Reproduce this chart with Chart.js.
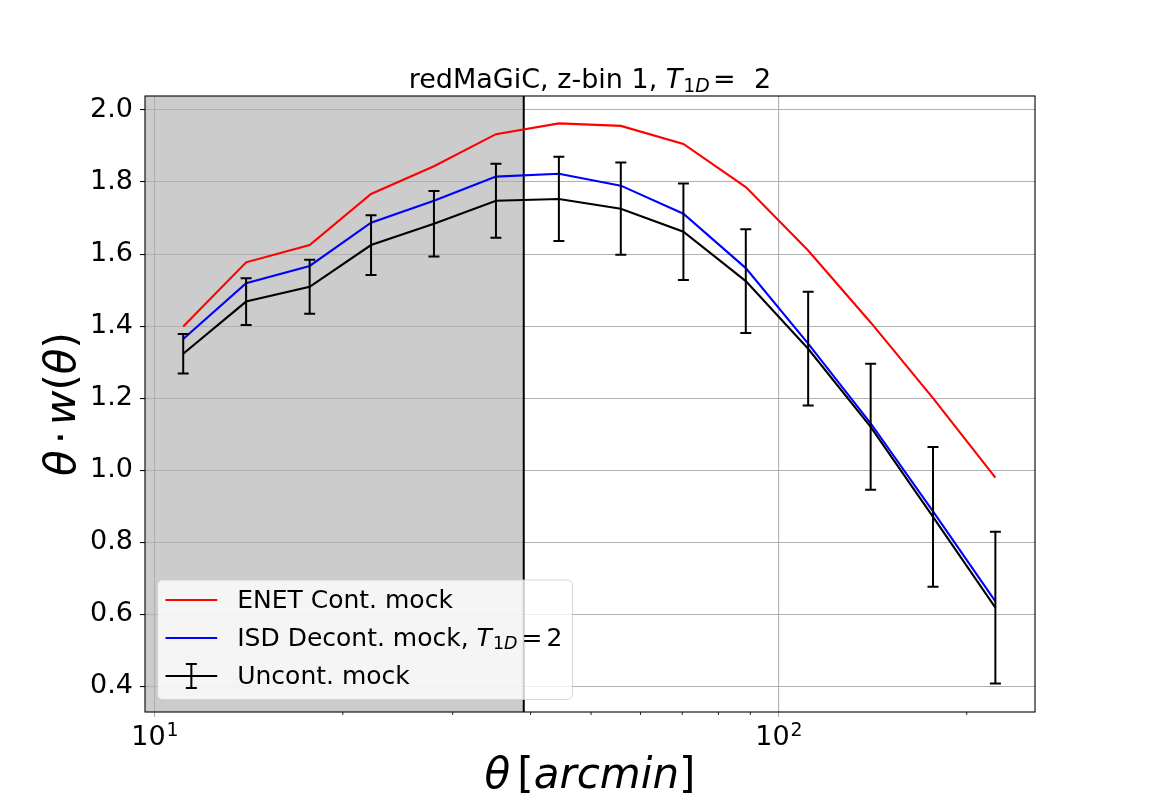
<!DOCTYPE html>
<html lang="en">

<head>
  <meta charset="UTF-8">
  <title>redMaGiC z-bin 1</title>
  <script src="https://cdn.jsdelivr.net/npm/chart.js@4.4.0/dist/chart.umd.min.js"></script>
  <style>
    body { margin: 0; background: #fff; }
    canvas { display: block; }
  </style>
</head>

<body>
  <canvas id="wChart" width="1150" height="800" style="width:1150px;height:800px"></canvas>
  <script>
    // theta bin centres [arcmin]
    const thetaArcmin = [11.1, 14.0, 17.7, 22.2, 28.0, 35.2, 44.4, 55.8, 70.3, 88.5, 111.4, 140.3, 176.6, 222.3];
    const enetCont = [1.399, 1.577, 1.625, 1.767, 1.844, 1.933, 1.963, 1.956, 1.906, 1.786, 1.610, 1.410, 1.200, 0.979];
    const isdDecont = [1.364, 1.519, 1.567, 1.687, 1.748, 1.815, 1.823, 1.790, 1.712, 1.561, 1.351, 1.130, 0.885, 0.635];
    const uncontMock = [1.323, 1.468, 1.509, 1.625, 1.684, 1.748, 1.753, 1.726, 1.662, 1.525, 1.337, 1.120, 0.870, 0.618];
    const uncontErr = [0.055, 0.065, 0.075, 0.083, 0.091, 0.103, 0.117, 0.128, 0.134, 0.144, 0.158, 0.175, 0.194, 0.211];

    const yTickValues = [0.4, 0.6, 0.8, 1.0, 1.2, 1.4, 1.6, 1.8, 2.0];
    const xMajorTicks = [10, 100];
    const xMajorExp = ['1', '2'];
    const xMinorTicks = [20, 30, 40, 50, 60, 70, 80, 90, 200];
    const maskLimit = 39; // small-scale cut, shaded region
    const xRange = [9.64, 257.3];
    const yRange = [0.328, 2.039];

    const FAM = '"DejaVu Sans"';

    function runFont(r, size) {
      const s = (r.sub || r.sup) ? size * 0.7 : size;
      return (r.it ? 'italic ' : '') + s + 'px ' + FAM;
    }

    // draws a list of text pieces (mathtext-ish: italic, sub, sup)
    function drawRuns(ctx, runs, x, y, size, align) {
      let w = 0;
      runs.forEach(r => {
        ctx.font = runFont(r, size);
        w += (r.gap || 0) + ctx.measureText(r.t).width;
      });
      let cx = align === 'center' ? x - w / 2 : x;
      ctx.textAlign = 'left';
      ctx.textBaseline = 'alphabetic';
      runs.forEach(r => {
        cx += (r.gap || 0);
        ctx.font = runFont(r, size);
        let dy = 0;
        if (r.sub) dy = size * (r.drop || 0.13);
        if (r.sup) dy = -size * 0.32;
        ctx.fillText(r.t, cx, y + dy);
        cx += ctx.measureText(r.t).width;
      });
    }

    const decor = {
      id: 'decor',
      beforeDraw(chart) {
        const { ctx, chartArea: a, scales: { x } } = chart;
        ctx.save();
        ctx.fillStyle = '#fff';
        ctx.fillRect(0, 0, chart.width, chart.height);
        ctx.fillStyle = '#cccccc';
        const xm = x.getPixelForValue(maskLimit);
        ctx.fillRect(a.left, a.top, xm - a.left, a.bottom - a.top);
        ctx.restore();
      },
      beforeDatasetsDraw(chart) {
        const { ctx, chartArea: a, scales: { x } } = chart;
        const xm = x.getPixelForValue(maskLimit);
        ctx.save();
        ctx.strokeStyle = '#000';
        ctx.lineWidth = 2;
        ctx.beginPath();
        ctx.moveTo(xm, a.top);
        ctx.lineTo(xm, a.bottom);
        ctx.stroke();
        ctx.restore();
      },
      afterDatasetsDraw(chart) {
        const { ctx, chartArea: a, scales: { x, y } } = chart;
        ctx.save();
        // error bars
        ctx.strokeStyle = '#000';
        ctx.lineWidth = 2;
        thetaArcmin.forEach((t, i) => {
          const px = x.getPixelForValue(t);
          const y1 = y.getPixelForValue(uncontMock[i] + uncontErr[i]);
          const y0 = y.getPixelForValue(uncontMock[i] - uncontErr[i]);
          ctx.beginPath();
          ctx.moveTo(px, y1); ctx.lineTo(px, y0);
          ctx.moveTo(px - 5.5, y1); ctx.lineTo(px + 5.5, y1);
          ctx.moveTo(px - 5.5, y0); ctx.lineTo(px + 5.5, y0);
          ctx.stroke();
        });
        // frame
        ctx.lineWidth = 1.1;
        ctx.strokeRect(a.left, a.top, a.right - a.left, a.bottom - a.top);
        // minor x ticks
        ctx.lineWidth = 0.85;
        ctx.beginPath();
        xMinorTicks.forEach(v => {
          const px = x.getPixelForValue(v);
          ctx.moveTo(px, a.bottom);
          ctx.lineTo(px, a.bottom + 3);
        });
        ctx.stroke();
        // major x tick labels 10^n
        ctx.fillStyle = '#000';
        xMajorTicks.forEach((v, i) => {
          const px = x.getPixelForValue(v);
          drawRuns(ctx, [{ t: '10' }, { t: xMajorExp[i], sup: true, gap: 1 }], px, a.bottom + 33, 27, 'center');
        });
        ctx.restore();
      },
      afterDraw(chart) {
        const { ctx, chartArea: a } = chart;
        const cxm = (a.left + a.right) / 2;
        ctx.save();
        ctx.fillStyle = '#000';
        // title
        drawRuns(ctx, [
          { t: 'redMaGiC, z-bin 1, ' },
          { t: 'T', it: true },
          { t: '1', sub: true, gap: 1 },
          { t: 'D', sub: true, it: true },
          { t: '=', gap: 3 },
          { t: ' 2', gap: 10 }
        ], cxm, a.top - 8, 27, 'center');
        // x title
        drawRuns(ctx, [
          { t: 'θ', it: true },
          { t: '[', gap: 7 },
          { t: 'arcmin', it: true },
          { t: ']' }
        ], cxm, 788, 42, 'center');
        // y title
        ctx.save();
        ctx.translate(75, (a.top + a.bottom) / 2);
        ctx.rotate(-Math.PI / 2);
        drawRuns(ctx, [
          { t: 'θ', it: true },
          { t: '·', gap: 6 },
          { t: 'w', it: true, gap: 6 },
          { t: '(' },
          { t: 'θ', it: true },
          { t: ')' }
        ], 0, 0, 42, 'center');
        ctx.restore();

        // legend
        const lx = a.left + 12.5, lb = a.bottom - 12.5;
        const lw = 415, lh = 119.5, ly = lb - lh, rad = 5;
        ctx.beginPath();
        ctx.roundRect(lx, ly, lw, lh, rad);
        ctx.fillStyle = 'rgba(255,255,255,0.8)';
        ctx.fill();
        ctx.strokeStyle = 'rgba(204,204,204,0.8)';
        ctx.lineWidth = 1;
        ctx.stroke();

        const rows = [
          { color: '#ff0000', runs: [{ t: 'ENET Cont. mock' }] },
          { color: '#0000ff', runs: [{ t: 'ISD Decont. mock, ' }, { t: 'T', it: true }, { t: '1', sub: true, gap: 1, drop: 0.1 }, { t: 'D', sub: true, it: true, drop: 0.1 }, { t: '=', gap: 4 }, { t: '2', gap: 4 }] },
          { color: '#000', err: true, runs: [{ t: 'Uncont. mock' }] }
        ];
        const h0 = lx + 8, h1 = h0 + 51.7;
        rows.forEach((r, i) => {
          const yy = ly + 20 + i * 38;
          ctx.strokeStyle = r.color;
          ctx.lineWidth = r.err ? 2 : 2.1;
          ctx.beginPath();
          ctx.moveTo(h0, yy); ctx.lineTo(h1, yy);
          if (r.err) {
            const hm = (h0 + h1) / 2;
            ctx.moveTo(hm, yy - 12); ctx.lineTo(hm, yy + 12);
            ctx.moveTo(hm - 5.5, yy - 12); ctx.lineTo(hm + 5.5, yy - 12);
            ctx.moveTo(hm - 5.5, yy + 12); ctx.lineTo(hm + 5.5, yy + 12);
          }
          ctx.stroke();
          ctx.fillStyle = '#000';
          drawRuns(ctx, r.runs, h1 + 20, yy + 8.3, 25, 'left');
        });
        ctx.restore();
      }
    };

    const pts = arr => thetaArcmin.map((t, i) => ({ x: t, y: arr[i] }));

    new Chart(document.getElementById('wChart'), {
      type: 'line',
      data: {
        datasets: [{
          label: 'ENET Cont. mock',
          data: pts(enetCont),
          borderColor: '#ff0000',
          borderWidth: 2.1
        },
        {
          label: 'ISD Decont. mock',
          data: pts(isdDecont),
          borderColor: '#0000ff',
          borderWidth: 2.1
        },
        {
          label: 'Uncont. mock',
          data: pts(uncontMock),
          borderColor: '#000000',
          borderWidth: 2.1
        }]
      },
      options: {
        responsive: false,
        animation: false,
        devicePixelRatio: 1,
        events: [],
        elements: { point: { radius: 0 }, line: { tension: 0 } },
        layout: { padding: { left: 0, top: 96, right: 115, bottom: 0 } },
        plugins: { legend: { display: false }, title: { display: false }, tooltip: { enabled: false } },
        scales: {
          x: {
            type: 'logarithmic',
            min: xRange[0],
            max: xRange[1],
            afterBuildTicks: s => { s.ticks = xMajorTicks.map(v => ({ value: v })); },
            afterFit: s => { s.height = 88; },
            ticks: { display: false },
            border: { display: false },
            grid: { color: '#b0b0b0', lineWidth: 1.1, tickColor: '#b0b0b0', tickLength: 5, tickWidth: 1.1 }
          },
          y: {
            type: 'linear',
            min: yRange[0],
            max: yRange[1],
            afterBuildTicks: s => { s.ticks = yTickValues.map(v => ({ value: v })); },
            afterFit: s => { s.width = 145; },
            ticks: {
              color: '#000',
              padding: 7,
              font: { family: 'DejaVu Sans', size: 27 },
              callback: v => v.toFixed(1)
            },
            border: { display: false },
            grid: { color: '#b0b0b0', lineWidth: 1.1, tickColor: '#000', tickLength: 5, tickWidth: 1.1 }
          }
        }
      },
      plugins: [decor]
    });
  </script>
</body>

</html>
